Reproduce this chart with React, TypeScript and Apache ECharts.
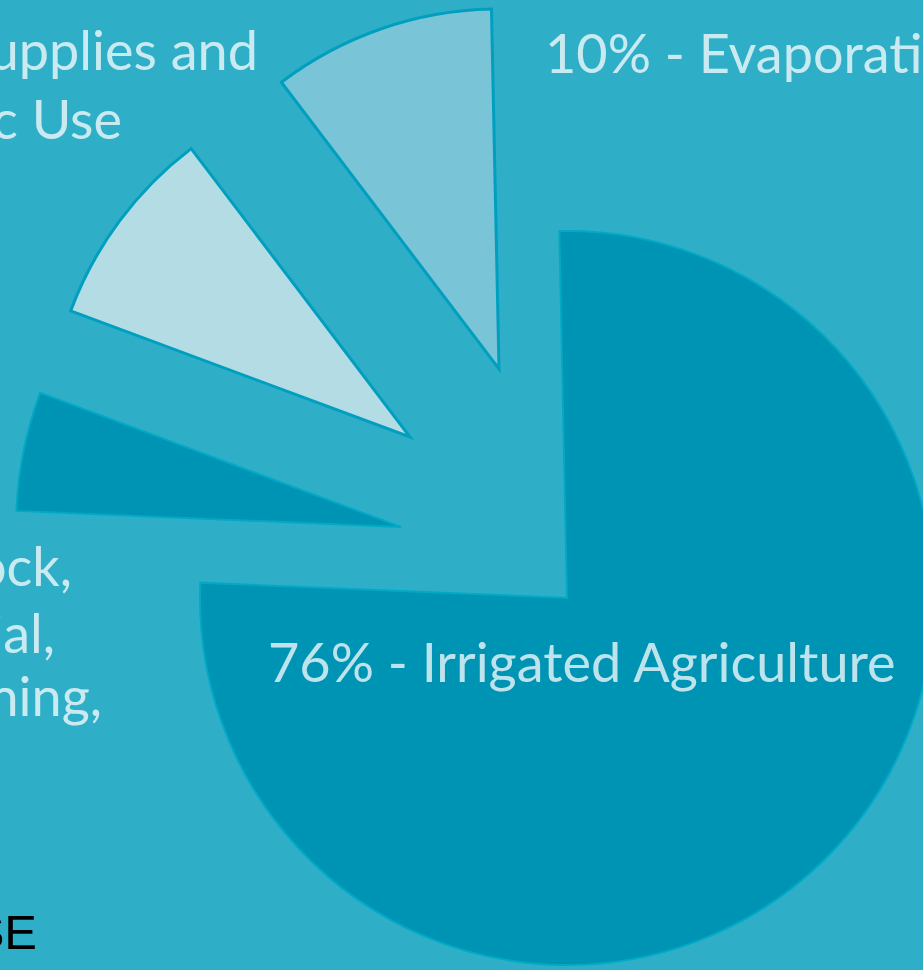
import React, { useEffect, useRef } from "react";
import * as echarts from "echarts";

// ---- data ----
const categories = [
  "Irrigated Agriculture",
  "Livestock, Industrial, Mining",
  "Municipal Supplies and Domestic Use",
  "Evaporation",
];
const values = [76, 5, 9, 10];
const municipalLines = ["Municipal Supplies and", "Domestic Use"];
const livestockLines = ["Livestock,", "Industrial,", "Mining,"];
const titleText = "WATER USE";

// ---- layout / style ----
const W = 923;
const H = 970;
const START_ANGLE = 91.2;
const centers: [number, number][] = [
  [567, 598],
  [401, 527],
  [410, 437],
  [499, 369],
];
const radii = [367, 385, 362, 360];
const sliceColors = ["#0094b4", "#0094b4", "#b4dce5", "#79c4d6"];
const borderColors = ["#00a9c5", "#00a9c5", "#009fbf", "#009fbf"];
const borderWidths = [2, 2, 3, 3];
const BG = "#2fafc7";
const LABEL_FONT = "Lato, 'Noto Sans', sans-serif";
const LABEL_COLOR = "rgba(255,255,255,0.74)";

function makeSeries(k: number) {
  return {
    type: "pie",
    silent: true,
    center: centers[k],
    radius: radii[k],
    startAngle: START_ANGLE,
    clockwise: true,
    label: { show: false },
    labelLine: { show: false },
    emphasis: { disabled: true },
    z: 2,
    data: values.map((v, i) => ({
      value: v,
      name: categories[i],
      itemStyle:
        i === k
          ? {
              color: sliceColors[i],
              borderColor: borderColors[i],
              borderWidth: borderWidths[i],
              borderJoin: "miter",
            }
          : { color: "rgba(0,0,0,0)", borderWidth: 0 },
    })),
  };
}

function labelText(x: number, y: number, text: string, align: string, opts: any = {}) {
  return {
    type: "text",
    x,
    y,
    z: 10,
    silent: true,
    style: {
      text,
      align,
      verticalAlign: "middle",
      fontFamily: opts.fontFamily || LABEL_FONT,
      fontSize: opts.fontSize || 54,
      fontWeight: opts.fontWeight || "normal",
      fill: opts.fill || LABEL_COLOR,
    },
  };
}

export default function App() {
  const ref = useRef<HTMLDivElement>(null);
  useEffect(() => {
    document.body.style.margin = "0";
    if (!ref.current) return;
    const chart = echarts.init(ref.current, null, { renderer: "svg", width: W, height: H });
    const graphics: any[] = [
      labelText(545, 52, `${values[3]}% - ${categories[3]}`, "left"),
      labelText(268, 661, `${values[0]}% - ${categories[0]}`, "left"),
      labelText(258, 49, municipalLines[0], "right"),
      labelText(122, 118, municipalLines[1], "right"),
      labelText(72, 565, livestockLines[0], "right"),
      labelText(55, 632, livestockLines[1], "right"),
      labelText(102, 695, livestockLines[2], "right"),
      labelText(37, 932, titleText, "right", {
        fontFamily: "'Liberation Sans', Arial, sans-serif",
        fontSize: 49,
        fontWeight: "normal",
        fill: "#000000",
      }),
    ];
    chart.setOption({
      animation: false,
      backgroundColor: BG,
      series: [0, 1, 2, 3].map(makeSeries),
      graphic: graphics,
    });
    return () => chart.dispose();
  }, []);
  return (
    <div
      ref={ref}
      style={{ position: "fixed", left: 0, top: 0, width: W, height: H }}
    />
  );
}
